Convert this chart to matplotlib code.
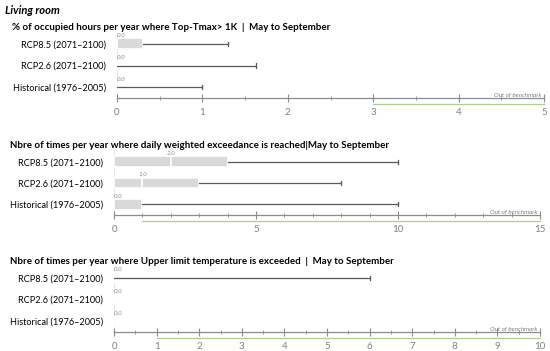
import matplotlib.pyplot as plt
import numpy as np

plt.rcParams["font.family"] = ["Lato", "DejaVu Sans"]

rows = ["Historical (1976\u20132005)", "RCP2.6 (2071\u20132100)", "RCP8.5 (2071\u20132100)"]

# panel 1: % of occupied hours, Top-Tmax > 1K
p1_median = [0.0, 0.0, 0.0]
p1_q3 = [0.0, 0.0, 0.3]
p1_max = [1.0, 1.63, 1.3]

# panel 2: daily weighted exceedance
p2_median = [0.0, 1.0, 2.0]
p2_q3 = [1.0, 3.0, 4.0]
p2_max = [10.0, 8.0, 10.0]

# panel 3: upper limit temperature exceeded
p3_median = [0.0, 0.0, 0.0]
p3_q3 = [0.0, 0.0, 0.0]
p3_max = [0.0, 0.0, 6.0]

titles = [
    "% of occupied hours per year where Top-Tmax> 1K  |  May to September",
    "Nbre of times per year where daily weighted exceedance is reached|May to September",
    "Nbre of times per year where Upper limit temperature is exceeded  |  May to September",
]
benchmarks = [3, 1, 1]
xmaxes = [5, 15, 10]
major_steps = [1, 5, 1]
minor_steps = [0.5, 1, 0.5]

BOX = "#d9d9d9"
WHISK = "#595959"
AXIS = "#8c8c8c"
GREEN = "#a9d18e"

fig = plt.figure(figsize=(5.5, 3.51), dpi=100)


def px_axes(x0, y0, x1, y1):
    return fig.add_axes([x0 / 550, 1 - y1 / 351, (x1 - x0) / 550, (y1 - y0) / 351])


def draw_panel(ax, median, q3, vmax, xmax, bench, major, minor):
    y = np.arange(len(rows))
    med = np.array(median)
    top = np.array(q3)
    # box: 0 -> median, median -> q3 with a white split at the median
    ax.barh(y, med, left=0, height=0.5, color=BOX, edgecolor="white", linewidth=1.2, zorder=2)
    ax.barh(y, top - med, left=med, height=0.5, color=BOX, edgecolor="white", linewidth=1.2, zorder=2)
    for i in y:
        if vmax[i] > top[i]:
            ax.plot([top[i], vmax[i]], [i, i], color=WHISK, lw=0.9, zorder=3)
            ax.plot([vmax[i], vmax[i]], [i - 0.1, i + 0.1], color=WHISK, lw=0.9, zorder=3)
        ax.text(med[i], i + 0.26, f"{med[i]:.1f}", fontsize=4.5, style="italic",
                color="#8c8c8c", ha="center" if med[i] > 0 else "left", va="bottom", zorder=4)

    ax.axvline(0, color="#e4e4e4", lw=0.8, zorder=1)
    ax.set_xlim(0, xmax)
    ax.set_ylim(-0.5, 2.5)
    ax.set_yticks(y)
    ax.set_yticklabels(rows, fontsize=6.6, color="black")
    ax.tick_params(axis="y", length=0, pad=8)
    ax.set_xticks(np.arange(0, xmax + 0.01, major))
    ax.set_xticks(np.arange(0, xmax + 0.01, minor), minor=True)
    ax.tick_params(axis="x", which="major", direction="inout", length=6, width=0.8,
                   color=AXIS, labelsize=7, labelcolor="#7f7f7f", pad=4)
    ax.tick_params(axis="x", which="minor", direction="inout", length=3, width=0.6, color=AXIS)
    for side in ["top", "right", "left"]:
        ax.spines[side].set_visible(False)
    ax.spines["bottom"].set_color(AXIS)
    ax.spines["bottom"].set_linewidth(0.9)

    # out of benchmark zone
    ax.plot([bench, xmax], [-0.09, -0.09], transform=ax.get_xaxis_transform(),
            color=GREEN, lw=0.9, clip_on=False)
    ax.text(xmax * 0.995, 0.01, "Out of benchmark", transform=ax.get_xaxis_transform(),
            fontsize=4.5, style="italic", color="#7f7f7f", ha="right", va="bottom")


ax1 = px_axes(117, 33, 544, 98)
draw_panel(ax1, p1_median, p1_q3, p1_max, xmaxes[0], benchmarks[0], major_steps[0], minor_steps[0])
ax2 = px_axes(114, 151, 540, 215)
draw_panel(ax2, p2_median, p2_q3, p2_max, xmaxes[1], benchmarks[1], major_steps[1], minor_steps[1])
ax3 = px_axes(114, 267, 540, 332)
draw_panel(ax3, p3_median, p3_q3, p3_max, xmaxes[2], benchmarks[2], major_steps[2], minor_steps[2])

fig.text(5 / 550, 1 - 10 / 351, "Living room", fontsize=8, weight="bold", style="italic", va="center")
fig.text(12 / 550, 1 - 27 / 351, titles[0], fontsize=7, weight="bold", va="center")
fig.text(10 / 550, 1 - 146 / 351, titles[1], fontsize=7, weight="bold", va="center")
fig.text(10 / 550, 1 - 262 / 351, titles[2], fontsize=7, weight="bold", va="center")

fig.savefig("out.png", dpi=100)
